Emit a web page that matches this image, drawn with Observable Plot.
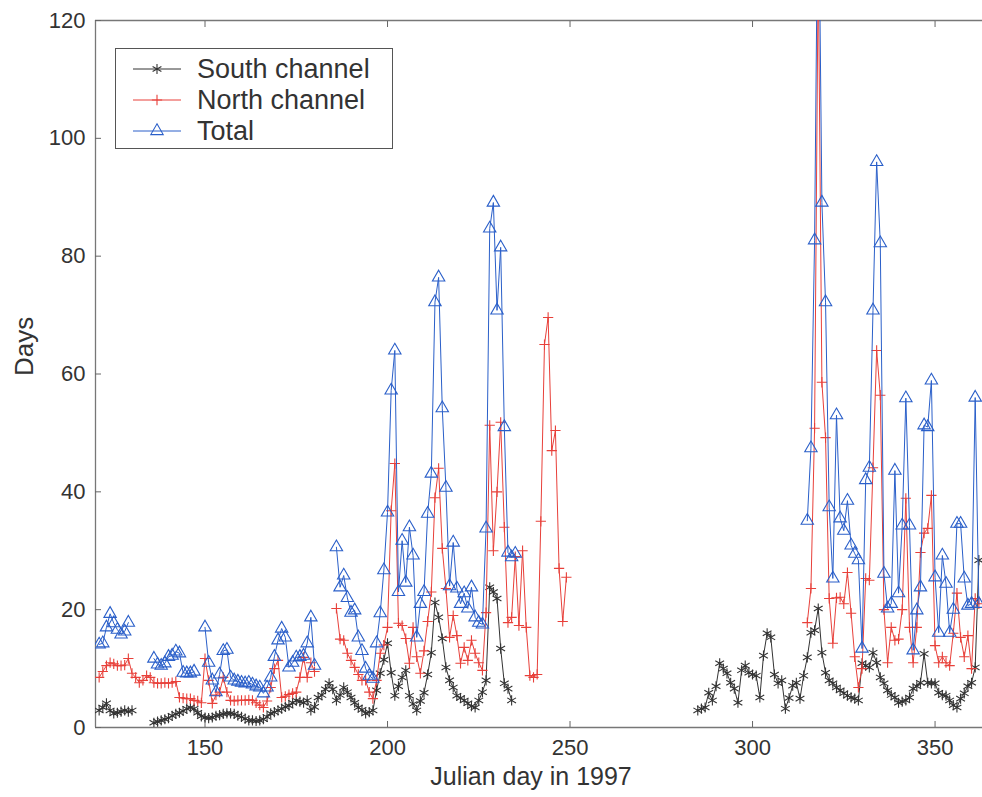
<!DOCTYPE html>
<html>
<head>
<meta charset="utf-8">
<script src="https://cdn.jsdelivr.net/npm/d3@7"></script>
<script src="https://cdn.jsdelivr.net/npm/@observablehq/plot@0.6"></script>
<style>
  html, body { margin: 0; padding: 0; background: #fff; }
  #wrap { position: relative; width: 982px; height: 797px; font-family: "Liberation Sans", Arial, sans-serif; }
  #legend { position: absolute; left: 115px; top: 48px; width: 276px; height: 99px; border: 1px solid #555; background: #fff; }
  .row { position: absolute; left: 0; height: 30px; width: 276px; }
  .row svg { position: absolute; left: 14px; top: 0; }
  .row span { position: absolute; left: 81px; top: 0px; font-size: 27px; line-height: 30px; color: #333; white-space: nowrap; }
</style>
</head>
<body>
<div id="wrap"></div>
<script>
// ---------- data ----------
const xTicks = [150, 200, 250, 300, 350];
const yTicks = [0, 20, 40, 60, 80, 100, 120];
const seriesNames = ["South channel", "North channel", "Total"];
const seriesColors = ["#333333", "#e8403a", "#2a5fc9"];

// [Julian day, days] ; null = gap in record
const south = [
  [121,2.9],[122,3.4],[123,4.1],[124,2.9],[125,2.4],[126,2.5],[127,2.7],[128,2.9],[129,2.7],[130,2.9],[131,null],
  [136,0.8],[137,1],[138,1.2],[139,1.4],[140,1.6],[141,2],[142,2.3],[143,2.5],[144,2.8],[145,3.2],[146,3.4],[147,3.2],
  [148,2.5],[149,1.9],[150,1.7],[151,1.6],[152,1.7],[153,2],[154,2.1],[155,2.3],[156,2.4],[157,2.4],[158,2.3],[159,2],
  [160,1.8],[161,1.5],[162,1.2],[163,1.2],[164,1.1],[165,1.2],[166,1.4],[167,1.8],[168,2.4],[169,2.6],[170,2.9],
  [171,3.2],[172,3.5],[173,3.7],[174,4.2],[175,4.6],[176,4.4],[177,4.2],[178,4.6],[179,2.9],[180,3.5],[181,5.1],
  [182,5.5],[183,6.5],[184,7.5],[185,6.5],[186,4.6],[187,5.5],[188,6.8],[189,6],[190,5.1],[191,4.2],[192,3.4],
  [193,3],[194,2.4],[195,2.6],[196,2.9],[197,6.3],[198,9.2],[199,11.5],[200,14.3],[201,9.3],[202,5.4],[203,7],
  [204,8.5],[205,9.7],[206,5.4],[207,4],[208,2.9],[209,4.5],[210,5.9],[211,9],[212,12.7],[213,21.2],[214,18.7],
  [215,15.1],[216,10.2],[217,8],[218,6.8],[219,5.4],[220,5],[221,4.6],[222,4.1],[223,3.6],[224,3.4],[225,4.6],
  [226,6],[227,8],[228,23.8],[229,23],[230,21.9],[231,13.4],[232,7.5],[233,6.6],[234,4.6],[235,null],
  [285,2.9],[286,3.2],[287,3.4],[288,5.9],[289,4.6],[290,7],[291,10.9],[292,10],[293,9.2],[294,7.6],[295,6.6],
  [296,4.2],[297,9.7],[298,10.5],[299,9.3],[300,9],[301,8.8],[302,5.1],[303,12.2],[304,16],[305,15.3],[306,9],
  [307,7.5],[308,8],[309,3.2],[310,5],[311,7.1],[312,7.6],[313,4.9],[314,8.8],[315,11.9],[316,16.1],[317,16.5],
  [318,20.2],[319,12.7],[320,9.3],[321,8],[322,7.5],[323,6.8],[324,6.3],[325,5.8],[326,5.4],[327,5.1],[328,4.9],
  [329,4.6],[330,10.9],[331,10.5],[332,10.2],[333,12.7],[334,11],[335,8.5],[336,7.5],[337,6.3],[338,5.5],[339,5.1],
  [340,4.2],[341,4.4],[342,4.6],[343,5.1],[344,6.6],[345,7],[346,7.6],[347,12.5],[348,7.6],[349,7.5],[350,7.5],
  [351,5.9],[352,5.5],[353,5.4],[354,4.6],[355,3.8],[356,3.4],[357,4.9],[358,5.8],[359,7],[360,7.6],[361,10.2],[362,28.4]
];

const north = [
  [121,8.5],[122,9.5],[123,10.5],[124,11],[125,10.8],[126,10.5],[127,10.5],[128,10.6],[129,11.7],[130,9.2],[131,8.5],
  [132,7.6],[133,8],[134,8.8],[135,8.5],[136,7.6],[137,7.5],[138,7.5],[139,7.6],[140,7.5],[141,7.6],[142,7.8],[143,5.1],
  [144,5],[145,4.9],[146,4.9],[147,4.6],[148,4.5],[149,4.2],[150,11.7],[151,8],[152,4.1],[153,5.5],[154,6],[155,8.5],
  [156,6],[157,4.6],[158,4.5],[159,4.6],[160,4.6],[161,4.6],[162,4.7],[163,4.6],[164,4.2],[165,3.8],[166,3.4],[167,4.5],
  [168,6.8],[169,10],[170,11.4],[171,5.1],[172,5.3],[173,5.6],[174,5.8],[175,6],[176,8.5],[177,11.9],[178,8.5],[179,11],
  [180,9.5],[181,null],
  [186,20.2],[187,15],[188,14.8],[189,12.6],[190,11.4],[191,10.2],[192,9],[193,8],[194,8],[195,6],[196,4.9],[197,8],
  [198,12.6],[199,14],[200,17],[201,36.8],[202,44.8],[203,17.7],[204,17.3],[205,15.1],[206,10.9],[207,17],[208,12],
  [209,9.2],[210,13],[211,18],[212,23],[213,39],[214,44],[215,30.4],[216,23.6],[217,15.3],[218,19],[219,15.6],
  [220,10.9],[221,13.6],[222,11.4],[223,14.8],[224,12.6],[225,11],[226,9.7],[227,19.5],[228,51.3],[229,30],[230,40],
  [231,51.8],[232,34],[233,17.8],[234,18.7],[235,29],[236,17.3],[237,30],[238,17],[239,8.8],[240,8.5],[241,9],
  [242,35],[243,65],[244,69.6],[245,47],[246,50.4],[247,27],[248,18],[249,25.5],[250,null],
  [315,17.8],[316,23.6],[317,50.8],[318,130],[319,58.6],[320,49.2],[321,21.9],[322,14.3],[323,22],[324,22.1],
  [325,21],[326,26.3],[327,19.4],[328,12],[329,6.8],[330,10],[331,25.3],[332,25],[333,44.1],[334,64],[335,56.4],
  [336,20],[337,11],[338,17],[339,14.8],[340,15],[341,20],[342,38.9],[343,17],[344,11],[345,17],[346,29.7],[347,33],
  [348,33.8],[349,39.4],[350,13.9],[351,11],[352,12],[353,11],[354,10.5],[355,16],[356,22.8],[357,15.3],[358,12],
  [359,15.6],[360,10],[361,21.9],[362,21]
];

const total = [
  [121,14.1],[122,14.3],[123,17],[124,19.3],[125,17.7],[126,16.6],[127,15.8],[128,16.3],[129,17.8],[130,null],
  [136,11.7],[137,10.7],[138,10.5],[139,10.9],[140,12],[141,12.2],[142,12.9],[143,12.6],[144,9.3],[145,9.2],[146,9.2],
  [147,9.5],[148,null],
  [150,17],[151,11],[152,8],[153,6],[154,9],[155,13],[156,13.2],[157,8.5],[158,8],[159,7.8],[160,7.6],[161,7.5],
  [162,7.6],[163,7.3],[164,7],[165,6.8],[166,5.8],[167,6.8],[168,8.5],[169,12],[170,14.8],[171,16.8],[172,15.3],
  [173,10.2],[174,11],[175,11.9],[176,12],[177,12.2],[178,14.3],[179,18.7],[180,10.5],[181,null],
  [186,30.6],[187,23.8],[188,25.8],[189,22],[190,19.5],[191,19.9],[192,15.3],[193,13],[194,10],[195,8.8],[196,8.3],
  [197,14.3],[198,19.4],[199,26.7],[200,36.5],[201,57.2],[202,64],[203,23],[204,31.7],[205,24.6],[206,34],[207,29.2],
  [208,15.3],[209,21],[210,23],[211,36.3],[212,43.1],[213,72.2],[214,76.4],[215,54.2],[216,40.7],[217,24],[218,31.4],
  [219,23.6],[220,21],[221,22.8],[222,20.2],[223,23.8],[224,18.7],[225,17.8],[226,17.5],[227,33.8],[228,84.7],
  [229,89.1],[230,70.8],[231,81.5],[232,51],[233,29.7],[234,28.9],[235,29.5],[236,null],
  [315,35.1],[316,47.4],[317,82.7],[318,150],[319,89.1],[320,72.2],[321,37.4],[322,25.3],[323,53],[324,35.5],
  [325,33.4],[326,38.5],[327,30.9],[328,29.5],[329,28.4],[330,13.4],[331,42],[332,44.1],[333,70.8],[334,96],
  [335,82.2],[336,26.1],[337,20.2],[338,21],[339,43.6],[340,22.8],[341,34.3],[342,55.9],[343,34.3],[344,13.1],
  [345,19.9],[346,23.8],[347,51.3],[348,51],[349,58.9],[350,25.5],[351,16.1],[352,29.2],[353,24.4],[354,16.1],
  [355,20],[356,34.6],[357,34.6],[358,25.3],[359,20.7],[360,21],[361,56],[362,21]
];

// ---------- chart ----------
const toRows = (arr) => arr.map(([day, v]) => ({day, v}));
const S = toRows(south), N = toRows(north), T = toRows(total);
const ink = "#333";

function seriesMarks(rows, color, symbol, r) {
  return [
    Plot.line(rows, {x: "day", y: "v", stroke: color, strokeWidth: 1, clip: true}),
    Plot.dot(rows.filter(d => d.v != null), {x: "day", y: "v", stroke: color, fill: "none", symbol, r, strokeWidth: 1.1, clip: true})
  ];
}

const chart = Plot.plot({
  width: 982,
  height: 797,
  marginLeft: 95,
  marginRight: 0,
  marginTop: 20,
  marginBottom: 70,
  style: {fontFamily: "'Liberation Sans', Arial, sans-serif", fontSize: "22px", color: ink, background: "#fff"},
  x: {domain: [120, 363]},
  y: {domain: [0, 120]},
  marks: [
    Plot.ruleY([0, 120], {stroke: "#777", strokeWidth: 1.3}),
    Plot.ruleX([120], {stroke: "#777", strokeWidth: 1.3}),
    Plot.axisX({anchor: "bottom", ticks: xTicks, tickSize: -6, tickPadding: 18, label: null, stroke: "#666", fill: ink, fontSize: 22}),
    Plot.axisX({anchor: "top", ticks: xTicks, tickSize: -6, tickFormat: () => "", label: null, stroke: "#666"}),
    Plot.axisY({anchor: "left", ticks: yTicks, tickSize: -6, tickPadding: 16, label: null, stroke: "#666", fill: ink, fontSize: 22}),
    ...seriesMarks(S, seriesColors[0], "asterisk", 4.8),
    ...seriesMarks(N, seriesColors[1], "plus", 3.4),
    ...seriesMarks(T, seriesColors[2], "triangle", 4.6),
    Plot.text(["Julian day in 1997"], {text: d => d, frameAnchor: "bottom", dy: 57, dx: -8, fill: ink, fontSize: 25}),
    Plot.text(["Days"], {text: d => d, frameAnchor: "left", dx: -71, dy: 2, rotate: -90, fill: ink, fontSize: 26})
  ]
});

const wrap = document.getElementById("wrap");
wrap.appendChild(chart);

// legend (inside the axes box, top-left)
const legend = document.createElement("div");
legend.id = "legend";
const symbols = ["asterisk", "plus", "triangle"];
const radii = [4.8, 3.4, 4.6];
seriesNames.forEach((name, i) => {
  const row = document.createElement("div");
  row.className = "row";
  row.style.top = (5 + i * 31) + "px";
  const svg = d3.create("svg").attr("width", 56).attr("height", 30);
  svg.append("line").attr("x1", 3).attr("x2", 51).attr("y1", 15).attr("y2", 15)
    .attr("stroke", seriesColors[i]).attr("stroke-width", 1);
  const sym = {asterisk: d3.symbolAsterisk, plus: d3.symbolPlus, triangle: d3.symbolTriangle}[symbols[i]];
  svg.append("path").attr("transform", "translate(27,15)")
    .attr("d", d3.symbol(sym, Math.PI * radii[i] * radii[i])())
    .attr("fill", "none").attr("stroke", seriesColors[i]).attr("stroke-width", 1.1);
  row.appendChild(svg.node());
  const span = document.createElement("span");
  span.textContent = name;
  row.appendChild(span);
  legend.appendChild(row);
});
wrap.appendChild(legend);
</script>
</body>
</html>
